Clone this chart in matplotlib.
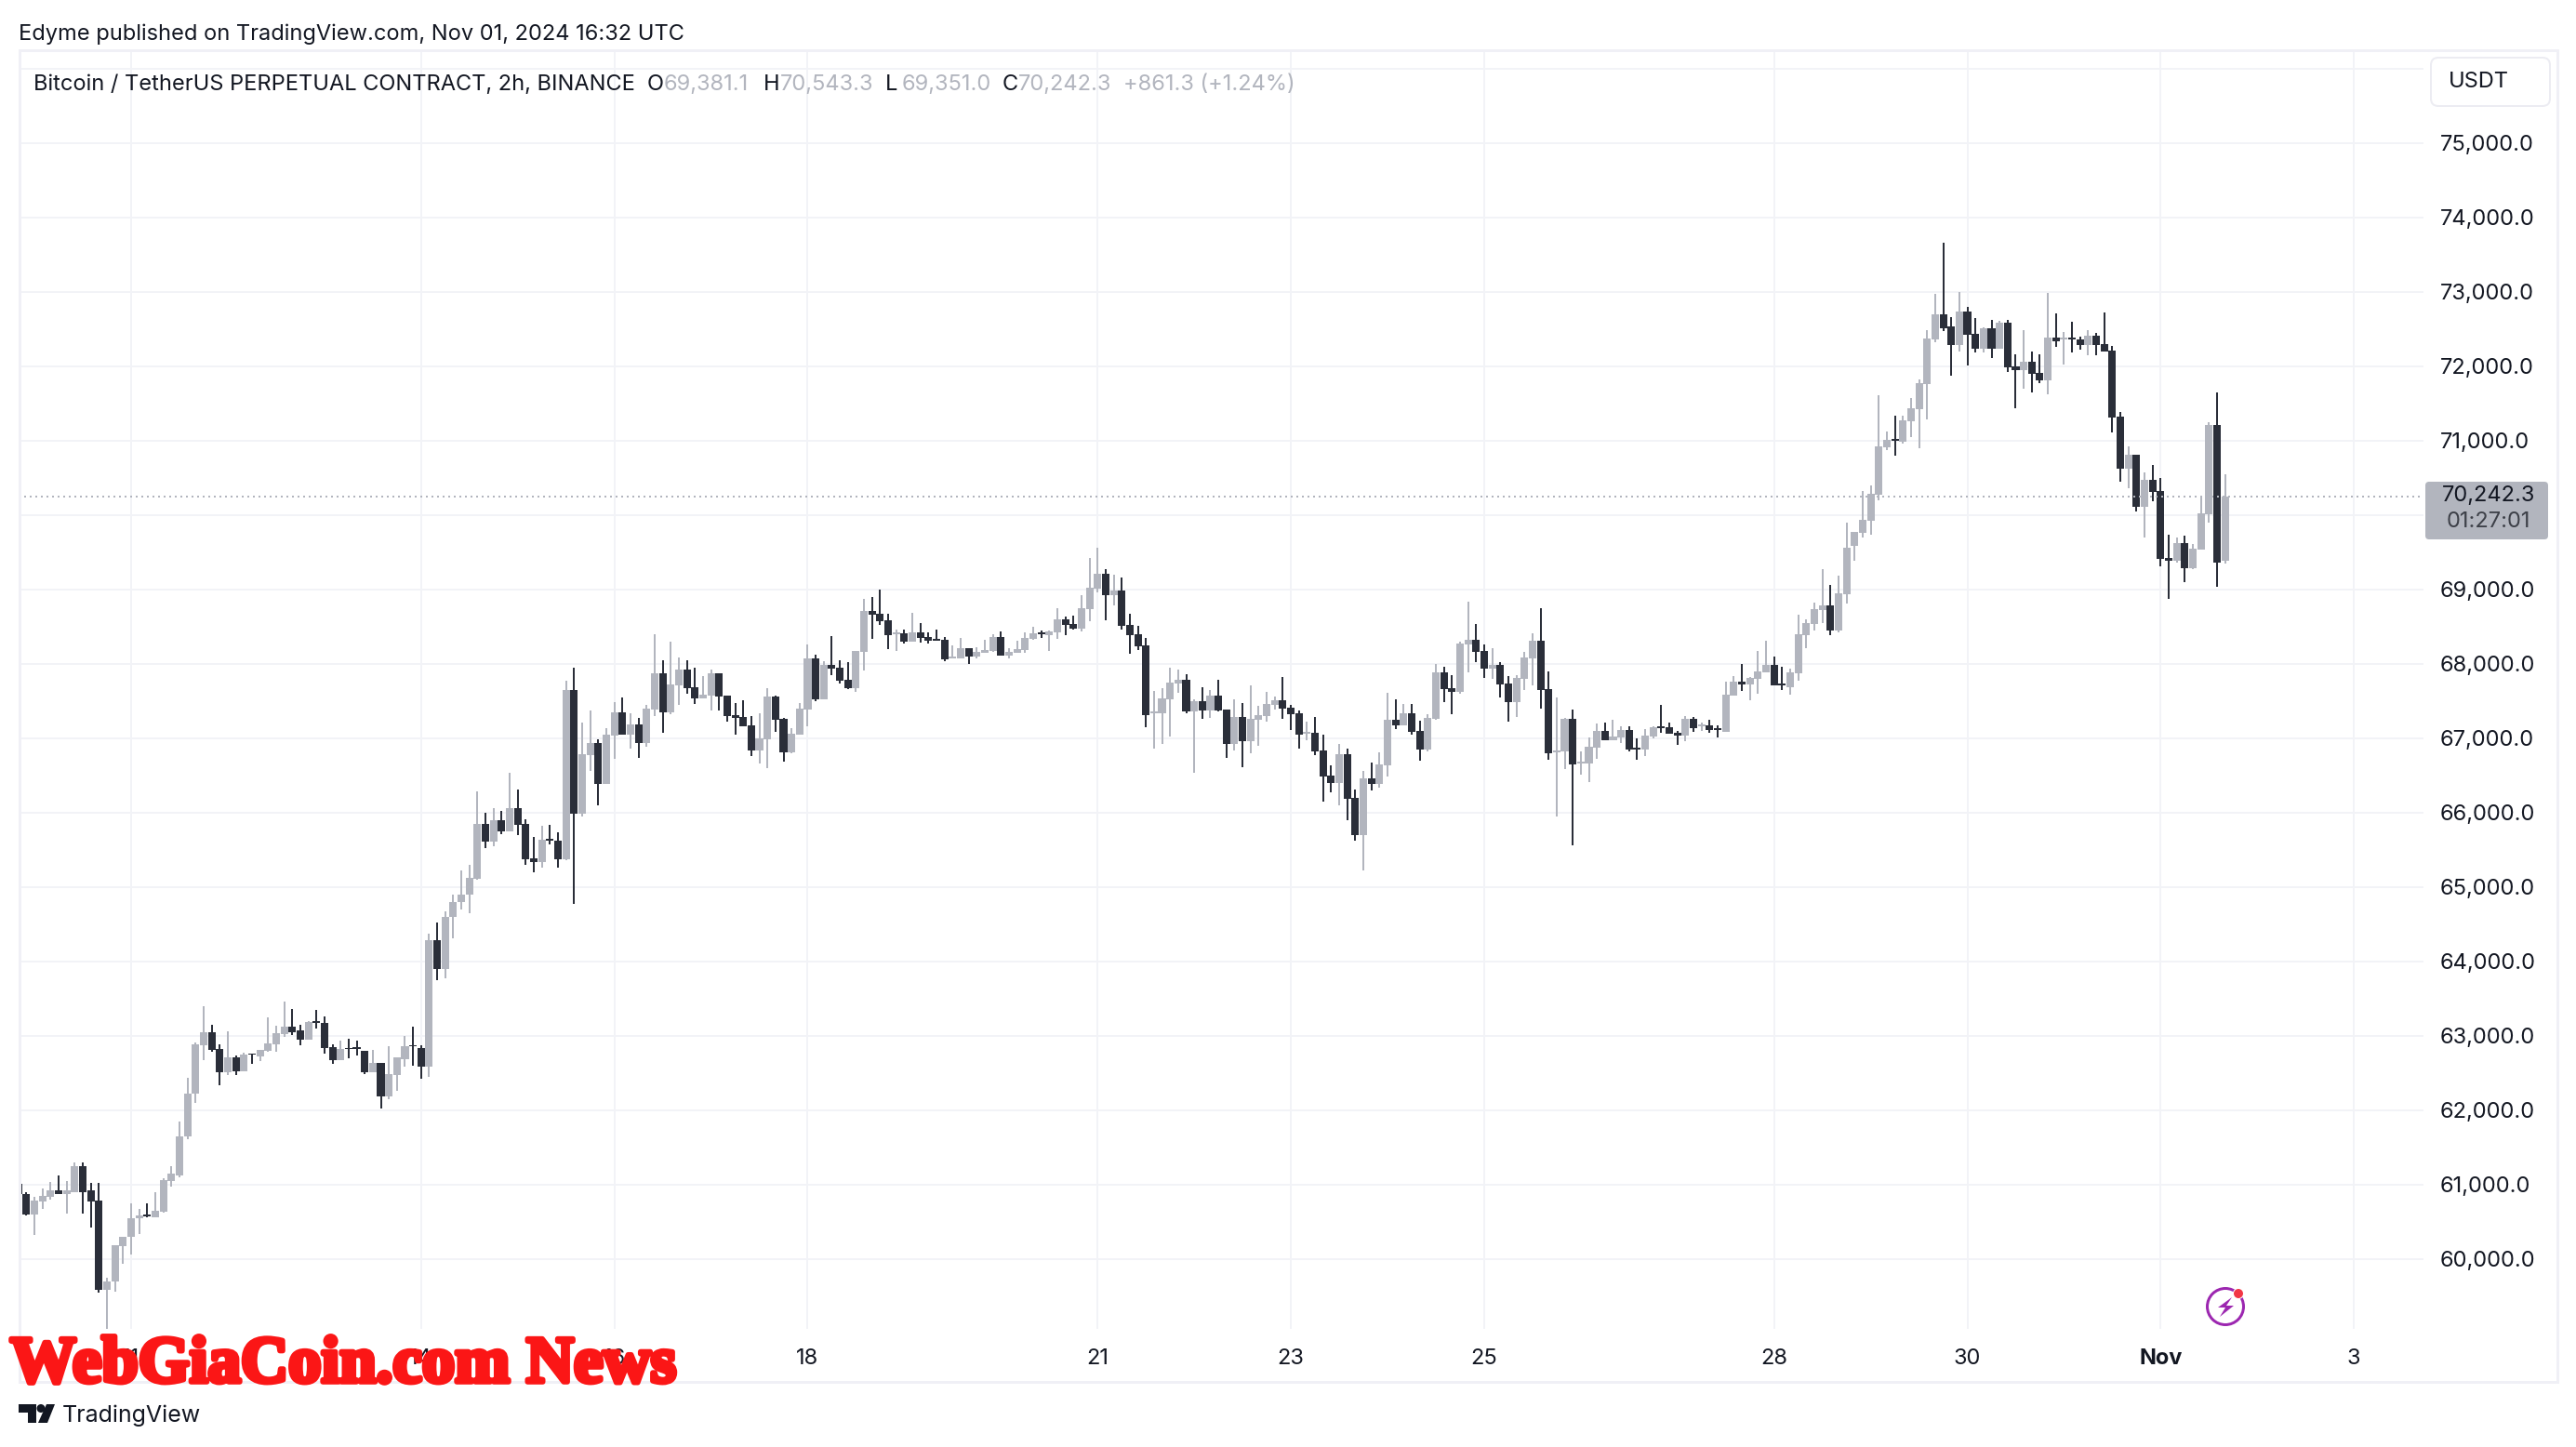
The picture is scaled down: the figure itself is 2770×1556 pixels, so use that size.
import numpy as np
from matplotlib import pyplot as plt
from matplotlib import patheffects
from matplotlib.patches import Circle, FancyBboxPatch, Polygon, Rectangle

W, H = 2770, 1556

opens = [
    61010,60875,60600,60765,60830,60915,60870,60900,61240,60915,
    60780,59585,59690,60165,60290,60540,60590,60555,60630,61040,
    61125,61640,62215,62875,63050,62825,62505,62710,62525,62755,
    62720,62795,62885,63025,63125,63065,62950,63195,63170,62850,
    62675,62835,62840,62795,62510,62630,62185,62475,62685,62865,
    62835,62585,64285,63900,64590,64790,64890,65110,65845,65610,
    65895,65745,66060,65845,65385,65335,65645,65620,65370,67645,
    65985,66770,66935,66385,67035,67345,67045,67185,66935,67385,
    67870,67345,67710,67920,67685,67535,67570,67870,67570,67310,
    67285,67170,66835,66985,67560,67260,66810,67045,67385,68070,
    67520,67985,67945,67785,67670,68160,68710,68670,68585,68395,
    68410,68295,68420,68360,68330,68320,68070,68070,68210,68095,
    68150,68170,68360,68110,68150,68185,68335,68420,68385,68420,
    68595,68535,68470,68735,69010,69210,68920,68985,68520,68395,
    68245,67335,67335,67520,67735,67785,67360,67495,67370,67570,
    67385,66920,67285,66960,67245,67295,67445,67510,67410,67335,
    67060,67070,66835,66495,66395,66785,66195,65695,66460,66385,
    66635,67245,67170,67335,67095,66845,67260,67885,67670,67620,
    68260,68320,68170,67935,67985,67735,67485,67795,68070,68310,
    67660,66810,66820,67260,66660,66660,66870,67095,66970,67010,
    67110,66870,66845,67020,67160,67145,67070,67035,67260,67160,
    67170,67135,67085,67570,67760,67720,67795,67885,67985,67735,
    67685,67870,68385,68535,68720,68785,68445,68935,69585,69760,
    69920,70270,70910,71020,70985,71260,71420,71760,72360,72695,
    72535,72285,72735,72435,72235,72510,72235,72585,71995,71945,
    72060,71910,71810,72385,72360,72385,72360,72285,72410,72295,
    72210,71320,70620,70810,70110,70470,70320,69420,69385,69620,
    69285,69535,70010,71210,69381.1,
]
highs = [
    61100,60890,60830,60940,61035,61125,61050,61300,61300,61025,
    61025,59740,60180,60300,60750,60675,60740,60900,61080,61240,
    61850,62435,62910,63400,63145,62885,63060,62735,62770,62755,
    62810,63250,63135,63460,63360,63140,63195,63345,63260,62885,
    62935,62960,62935,62795,62810,62630,62860,62710,63000,63125,
    62865,64370,64520,64670,64895,65220,65295,66285,66000,66060,
    66020,66535,66310,65910,65670,65820,65835,65735,67770,67945,
    67210,67370,66985,67135,67485,67545,67335,67270,67445,68395,
    68045,68295,68085,68045,67945,67835,67920,67870,67570,67470,
    67510,67295,67335,67670,67570,67270,67135,67470,68260,68120,
    68035,68370,68045,68020,68170,68870,68895,69000,68670,68460,
    68460,68685,68545,68420,68460,68360,68245,68345,68210,68220,
    68320,68400,68435,68210,68310,68420,68500,68445,68445,68745,
    68635,68645,68920,69420,69560,69270,69195,69160,68670,68510,
    68345,67635,67670,67945,67920,67860,67520,67685,67645,67785,
    67385,67520,67470,67710,67435,67620,67560,67820,67445,67370,
    67220,67285,67045,66635,66920,66860,66310,66560,66670,66810,
    67610,67520,67460,67460,67235,67320,67995,67960,67845,68295,
    68835,68535,68260,68210,68020,67835,67845,68160,68410,68745,
    67895,67545,67270,67380,66820,67010,67195,67210,67245,67160,
    67160,66995,67120,67160,67445,67210,67095,67295,67285,67210,
    67245,67170,67760,67835,67995,67820,68170,68310,68095,67960,
    67935,68660,68595,68820,69270,69060,69185,69895,69770,70320,
    70395,71610,71120,71335,71335,71570,71820,72485,72970,73660,
    72660,72995,72795,72645,72520,72620,72610,72620,72160,72485,
    72195,72160,72985,72710,72460,72595,72395,72485,72445,72720,
    72270,71385,70920,70810,70570,70670,70495,69735,69695,69720,
    69610,70245,71245,71645,70543.3,
]
lows = [
    60260,60580,60315,60675,60790,60870,60605,60900,60605,60415,
    59545,59050,59555,59930,60060,60330,60560,60555,60625,60965,
    61100,61605,62090,62670,62780,62330,62465,62465,62525,62615,
    62655,62780,62785,62980,63010,62865,62950,63095,62760,62615,
    62675,62700,62730,62485,62510,62025,62140,62260,62580,62600,
    62425,62445,63750,63770,64310,64690,64640,65090,65525,65550,
    65710,65745,65700,65295,65195,65260,65570,65260,65360,64770,
    65945,66560,66095,66385,66720,67045,66860,66735,66885,67295,
    67070,67320,67445,67595,67460,67535,67370,67370,67220,67045,
    67160,66760,66660,66595,67085,66685,66795,67045,67160,67495,
    67520,67845,67735,67660,67620,67910,68335,68520,68195,68170,
    68270,68295,68285,68270,68310,68035,68070,68070,67995,68070,
    68150,68160,68110,68070,68150,68150,68320,68345,68170,68335,
    68385,68460,68435,68570,68960,68585,68785,68460,68135,68185,
    67145,66860,66920,67020,67610,67335,66535,67260,67270,67360,
    66735,66835,66610,66795,66895,67220,67385,67260,67110,66860,
    66970,66770,66145,66270,66095,65895,65620,65220,66295,66335,
    66485,67120,67170,67045,66695,66820,67245,67485,67320,67595,
    67885,68020,67810,67795,67545,67220,67285,67645,67710,67395,
    66710,65945,66585,65560,66510,66410,66720,66970,66970,66935,
    66820,66710,66760,66995,67070,67060,66910,66960,67085,67095,
    67070,67010,67085,67570,67635,67510,67595,67885,67710,67645,
    67585,67770,68210,68445,68545,68385,68420,68810,69385,69695,
    69735,70195,70870,70795,70960,71045,70895,71285,72320,72470,
    71870,72195,72010,72185,72185,72110,72235,71920,71435,71695,
    71645,71770,71620,72260,72020,72185,72220,72145,72145,72195,
    71110,70445,70360,70045,69695,70185,69310,68870,69360,69095,
    69270,69535,69895,69035,69351,
]
closes = [
    60870,60600,60780,60840,60915,60870,60915,61240,60900,60770,
    59585,59700,60180,60300,60545,60580,60570,60650,61055,61140,
    61650,62225,62885,63050,62810,62505,62710,62525,62750,62740,
    62810,62900,63035,63125,63045,62950,63185,63175,62835,62675,
    62825,62820,62825,62510,62630,62185,62485,62705,62860,62855,
    62585,64285,63900,64595,64795,64895,65120,65845,65610,65895,
    65745,66060,65835,65370,65335,65635,65620,65370,67645,65985,
    66785,66935,66385,67045,67345,67045,67185,66935,67395,67870,
    67345,67720,67920,67670,67535,67585,67870,67560,67295,67270,
    67160,66835,66995,67560,67245,66810,67060,67395,68070,67520,
    67985,67935,67770,67670,68170,68710,68660,68570,68385,68420,
    68295,68420,68345,68310,68310,68060,68095,68210,68095,68160,
    68185,68360,68110,68160,68195,68345,68410,68395,68435,68595,
    68520,68470,68745,69020,69210,68920,68985,68510,68385,68235,
    67310,67360,67535,67745,67785,67360,67495,67370,67570,67370,
    66920,67285,66960,67260,67310,67460,67510,67395,67320,67045,
    67085,66820,66485,66395,66785,66185,65695,66460,66385,66645,
    67245,67170,67335,67085,66845,67270,67885,67660,67620,68270,
    68320,68160,67935,67985,67720,67485,67810,68085,68310,67645,
    66795,66835,67260,66645,66685,66885,67095,66970,67020,67110,
    66845,66845,67035,67145,67135,67060,67035,67260,67135,67185,
    67110,67110,67585,67760,67720,67810,67895,67985,67710,67710,
    67885,68395,68545,68735,68785,68445,68945,69560,69770,69935,
    70285,70920,71010,70995,71270,71435,71770,72370,72695,72510,
    72285,72735,72420,72235,72510,72235,72585,71985,71945,72060,
    71895,71810,72385,72335,72385,72360,72285,72410,72285,72195,
    71310,70620,70810,70110,70470,70310,69410,69385,69620,69285,
    69545,70020,71210,69360,70242.3,
]

date_ticks = [14, 50, 74, 98, 134, 158, 182, 218, 242, 266, 290]
date_labels = ["11", "14", "16", "18", "21", "23", "25", "28", "30", "Nov", "3"]
price_ticks = list(range(60000, 77000, 1000))
last_price = "70,242.3"
countdown = "01:27:01"

UP = "#b2b5be"
DOWN = "#2a2e39"
GRID = "#f2f3f7"
INK = "#131722"
PX = 72 / 100  # one pixel in points
FS = 17

plt.rcParams["font.family"] = ["Inter", "DejaVu Sans"]

fig = plt.figure(figsize=(W / 100, H / 100), dpi=100, facecolor="white")

# pane runs from px 20 to 2606 and from px 54 to 1429, candles are 8.66 px apart
ax = fig.add_axes([20 / W, 1 - 1429 / H, (2606 - 20) / W, (1429 - 54) / H])
ax.set_xlim((20 - 19.8) / 8.66, (2606 - 19.8) / 8.66)
ax.set_ylim(59058.75, 76246)
for s in ax.spines.values():
    s.set_visible(False)

ax.set_xticks(date_ticks)
ax.set_xticklabels(date_labels, fontsize=FS, color=INK)
ax.get_xticklabels()[9].set_fontweight("bold")
ax.set_yticks(price_ticks)
ax.set_yticklabels([f"{p:,.1f}" if p < 76000 else "" for p in price_ticks], fontsize=FS, color=INK)
ax.yaxis.tick_right()
ax.tick_params(axis="x", length=0, pad=15)
ax.tick_params(axis="y", length=0, pad=13)
ax.set_axisbelow(True)
ax.grid(True, color=GRID, lw=2 * PX)

x = np.arange(len(opens))
o = np.array(opens)
c = np.array(closes)
colors = [UP if b >= a else DOWN for a, b in zip(opens, closes)]

ax.vlines(x, lows, highs, colors=colors, lw=2 * PX, zorder=3)
ax.bar(x, np.abs(c - o), bottom=np.minimum(o, c), width=0.93, color=colors, lw=0, zorder=4)
ax.axhline(closes[-1], color=UP, lw=2 * PX, ls=(0, (1, 2)), zorder=5)

# overlay in pixel coordinates for the page furniture
ov = fig.add_axes([0, 0, 1, 1], facecolor="none")
ov.set_xlim(0, W)
ov.set_ylim(H, 0)
ov.axis("off")

ov.add_patch(Rectangle((21, 54), 2729, 1431.5, fill=False, ec="#f0f0f6", lw=3 * PX))

ov.text(20, 37, "Edyme published on TradingView.com, Nov 01, 2024 16:32 UTC", fontsize=FS, color=INK, va="center")

ov.text(36, 91, "Bitcoin / TetherUS PERPETUAL CONTRACT, 2h, BINANCE", fontsize=FS, color=INK, va="center")
for px, s, col in [
    (696, "O", INK), (714, "69,381.1", UP),
    (821, "H", INK), (839, "70,543.3", UP),
    (952, "L", INK), (970, "69,351.0", UP),
    (1078, "C", INK), (1095, "70,242.3", UP),
    (1208, "+861.3 (+1.24%)", UP),
]:
    ov.text(px, 91, s, fontsize=FS, color=col, va="center")

# currency button
ov.add_patch(FancyBboxPatch((2614, 62), 128, 52, boxstyle="round,pad=0,rounding_size=8", fc="white", ec="#ececf2", lw=2 * PX))
ov.text(2633, 88, "USDT", fontsize=FS, color=INK, va="center")

# last price tag
ov.add_patch(FancyBboxPatch((2608, 518), 132, 62, boxstyle="round,pad=0,rounding_size=4", fc=UP, ec="none"))
ov.text(2676, 533, last_price, fontsize=FS, color=INK, ha="center", va="center")
ov.text(2676, 561, countdown, fontsize=FS, color="#3d4048", ha="center", va="center")

# lightning icon
ov.add_patch(Circle((2393, 1405), 19.5, fill=False, ec="#9c27b0", lw=3 * PX))
ov.add_patch(Polygon([(2400, 1395), (2385, 1406), (2393, 1406), (2387, 1416), (2402, 1404), (2394, 1404)], fc="#9c27b0", ec="none"))
ov.add_patch(Circle((2407, 1391), 6, fc="white", ec="none"))
ov.add_patch(Circle((2407, 1391), 5, fc="#f23645", ec="none"))

# site watermark
wm = ov.text(11, 1486, "WebGiaCoin.com News", fontsize=51, family=["Liberation Serif", "DejaVu Serif"], fontweight="bold", color="#fb1616", va="baseline", zorder=10)
wm.set_path_effects([patheffects.withStroke(linewidth=4, foreground="#fb1616")])

# TradingView logo
ov.add_patch(Polygon([(20, 1510), (39, 1510), (39, 1530), (30, 1530), (30, 1519), (20, 1519)], fc=INK, ec="none"))
ov.add_patch(Circle((44, 1514.5), 4.5, fc=INK, ec="none"))
ov.add_patch(Polygon([(50, 1510), (59, 1510), (51, 1530), (41, 1530)], fc=INK, ec="none"))
ov.text(67, 1522, "TradingView", fontsize=18, color=INK, va="center")

fig.savefig("out.png", dpi=100)
